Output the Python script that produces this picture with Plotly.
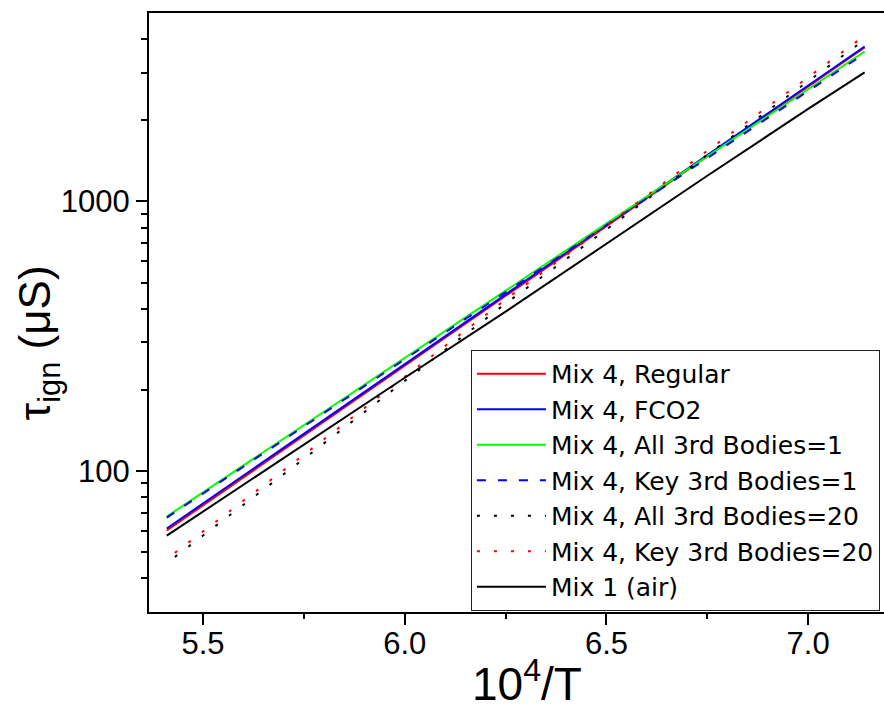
import plotly.graph_objects as go

# Ignition delay vs inverse temperature (10^4/T), log-scale delay in microseconds
x_grid = [5.41, 5.75, 6.0, 6.25, 6.5, 6.75, 7.0, 7.14]

tau_regular = [60.2, 135.4, 245.7, 446.0, 809.0, 1469.0, 2667.0, 3725.0]
tau_fco2 = [61.2, 137.5, 249.3, 451.6, 819.0, 1485.0, 2692.0, 3757.0]
tau_all_tb1 = [67.8, 148.1, 262.8, 466.6, 828.3, 1470.0, 2610.0, 3600.0]
tau_key_tb1 = [67.2, 146.5, 259.6, 460.6, 817.0, 1448.0, 2568.0, 3540.0]

x_tb20 = [5.43, 5.75, 6.0, 6.25, 6.5, 6.75, 7.0, 7.14]
tau_all_tb20 = [48.0, 111.0, 216.0, 418.0, 787.0, 1490.0, 2790.0, 3980.0]
tau_key_tb20 = [49.7, 114.9, 223.5, 432.4, 814.0, 1542.0, 2888.0, 4120.0]

tau_air = [57.6, 125.4, 221.9, 390.0, 698.0, 1245.0, 2204.0, 3012.0]

x_ticks = [5.5, 6.0, 6.5, 7.0]
x_ticktext = ["5.5", "6.0", "6.5", "7.0"]
x_minor = [5.75, 6.25, 6.75]
y_ticks = [100, 1000]
y_ticktext = ["100", "1000"]
y_minor = [40, 50, 60, 70, 80, 90, 200, 300, 400, 500, 600, 700, 800, 900,
           2000, 3000, 4000]

FONT = "Liberation Sans, Arial, sans-serif"
LEGEND_FONT = "DejaVu Sans, Liberation Sans, sans-serif"

series = [
    ("Mix 4, Regular", x_grid, tau_regular, "#ff0000", "solid"),
    ("Mix 4, FCO2", x_grid, tau_fco2, "#0000ff", "solid"),
    ("Mix 4, All 3rd Bodies=1", x_grid, tau_all_tb1, "#00ff00", "solid"),
    ("Mix 4, Key 3rd Bodies=1", x_grid, tau_key_tb1, "#0000ff", "9px,12px"),
    ("Mix 4, All 3rd Bodies=20", x_tb20, tau_all_tb20, "#000000", "3px,14px"),
    ("Mix 4, Key 3rd Bodies=20", x_tb20, tau_key_tb20, "#ff0000", "3px,14px"),
    ("Mix 1 (air)", x_grid, tau_air, "#000000", "solid"),
]

fig = go.Figure()
for i, (name, xs, ys, color, dash) in enumerate(series):
    fig.add_trace(go.Scatter(
        x=xs, y=ys, name=name, mode="lines",
        line=dict(color=color, width=2, dash=dash),
        legendgroup=f"g{i}",
    ))

fig.update_layout(
    width=884, height=713,
    margin=dict(l=149, r=0, t=13, b=101),
    paper_bgcolor="white", plot_bgcolor="white",
    font=dict(family=FONT, color="black"),
    showlegend=True,
    legend=dict(
        x=0.438, y=0.4374, xanchor="left", yanchor="top",
        font=dict(family=LEGEND_FONT, size=25, color="black"),
        bordercolor="#222222", borderwidth=1, bgcolor="white",
        traceorder="grouped", tracegroupgap=0, itemwidth=69,
    ),
    xaxis=dict(
        range=[5.366, 7.188],
        tickvals=x_ticks, ticktext=x_ticktext,
        ticks="outside", ticklen=11, tickwidth=2, tickcolor="black",
        ticklabelstandoff=-8,
        minor=dict(tickvals=x_minor, ticks="outside", ticklen=5,
                   tickwidth=2, tickcolor="black"),
        showline=True, linewidth=2, linecolor="black", mirror=True,
        showgrid=False, zeroline=False,
        tickfont=dict(family=FONT, size=31, color="black"),
    ),
    yaxis=dict(
        type="log", range=[1.4771, 3.699],
        tickvals=y_ticks, ticktext=y_ticktext,
        ticks="outside", ticklen=11, tickwidth=2, tickcolor="black",
        minor=dict(tickvals=y_minor, ticks="outside", ticklen=6,
                   tickwidth=2, tickcolor="black", showgrid=False),
        showline=True, linewidth=2, linecolor="black",
        showgrid=False, zeroline=False,
        tickfont=dict(family=FONT, size=31, color="black"),
    ),
    annotations=[
        dict(text="10<sup>4</sup>/T", xref="paper", yref="paper",
             x=0.514, y=-0.115, xanchor="center", yanchor="middle",
             showarrow=False, font=dict(family=FONT, size=46, color="black")),
        dict(text="τ<sub>ign</sub> (μS)", xref="paper", yref="paper",
             x=-0.15, y=0.45, xanchor="center", yanchor="middle",
             textangle=-90, showarrow=False,
             font=dict(family=FONT, size=44, color="black")),
    ],
)

fig.write_html("out.html")
